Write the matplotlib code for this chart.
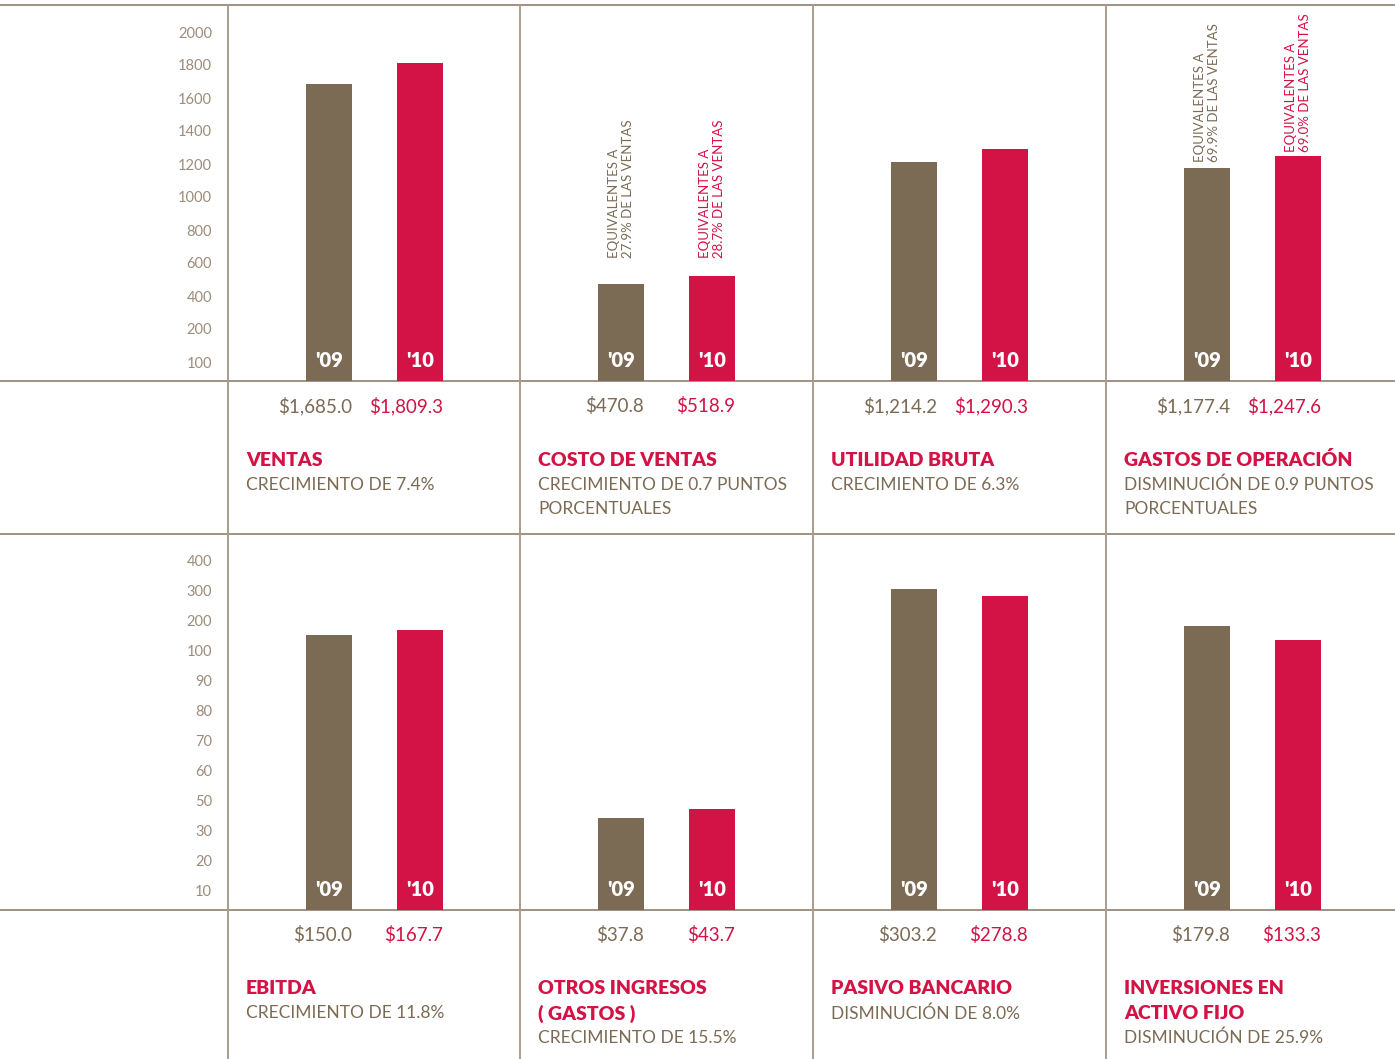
import matplotlib.pyplot as plt
import numpy as np

plt.rcParams['font.family'] = ['Lato', 'DejaVu Sans']

BROWN = '#7b6a54'
RED = '#d31245'
TICK = '#9c8c7b'
LINE = '#8f7f6e'
VLINE = '#aa9c8e'

years = ["'09", "'10"]

top_titles = ["VENTAS", "COSTO DE VENTAS", "UTILIDAD BRUTA", "GASTOS DE OPERACIÓN"]
top_notes = ["CRECIMIENTO DE 7.4%",
             "CRECIMIENTO DE 0.7 PUNTOS\nPORCENTUALES",
             "CRECIMIENTO DE 6.3%",
             "DISMINUCIÓN DE 0.9 PUNTOS\nPORCENTUALES"]
top_09 = [1685.0, 470.8, 1214.2, 1177.4]
top_10 = [1809.3, 518.9, 1290.3, 1247.6]
top_labels_09 = ["$1,685.0", "$470.8", "$1,214.2", "$1,177.4"]
top_labels_10 = ["$1,809.3", "$518.9", "$1,290.3", "$1,247.6"]
top_ticks = [100, 200, 400, 600, 800, 1000, 1200, 1400, 1600, 1800, 2000]
# share of sales, shown rotated above the bars
share_panels = [1, 3]
share_09 = ["27.9%", "69.9%"]
share_10 = ["28.7%", "69.0%"]

bottom_titles = ["EBITDA", "OTROS INGRESOS\n( GASTOS )", "PASIVO BANCARIO",
                 "INVERSIONES EN\nACTIVO FIJO"]
bottom_notes = ["CRECIMIENTO DE 11.8%", "CRECIMIENTO DE 15.5%",
                "DISMINUCIÓN DE 8.0%", "DISMINUCIÓN DE 25.9%"]
bottom_09 = [150.0, 37.8, 303.2, 179.8]
bottom_10 = [167.7, 43.7, 278.8, 133.3]
bottom_labels_09 = ["$150.0", "$37.8", "$303.2", "$179.8"]
bottom_labels_10 = ["$167.7", "$43.7", "$278.8", "$133.3"]
bottom_ticks = [10, 20, 30, 50, 60, 70, 80, 90, 100, 200, 300, 400]

W, H = 1395, 1059
fig = plt.figure(figsize=(W / 100, H / 100), dpi=100)

# overlay in pixel coords for rules and captions
ov = fig.add_axes([0, 0, 1, 1])
ov.set_xlim(0, W)
ov.set_ylim(H, 0)
ov.axis('off')

for y in [5, 381, 534, 910]:
    ov.plot([0, W], [y, y], color=LINE, lw=1.2, solid_capstyle='butt')
for x in [228, 520, 813, 1106]:
    ov.plot([x, x], [5, H], color=VLINE, lw=1.4, solid_capstyle='butt')

panel_x = [0, 292, 585, 878]
offs = [101, 192]
bar_w = 46


def make_scale(ticks, gap, extra):
    vals = np.array([0] + list(ticks) + [ticks[-1] + extra], dtype=float)
    pos = np.array([1 - gap] + list(range(1, len(ticks) + 2)), dtype=float)

    def fwd(v):
        return np.interp(v, vals, pos)

    def inv(p):
        return np.interp(p, pos, vals)
    return fwd, inv


def draw_row(y_top, y_base, ticks, gap, extra, spacing, v09, v10, l09, l10,
             titles, notes):
    ax = fig.add_axes([228 / W, 1 - y_base / H, (W - 228) / W, (y_base - y_top) / H])
    ax.patch.set_alpha(0)
    fwd, inv = make_scale(ticks, gap, extra)
    ax.set_yscale('function', functions=(fwd, inv))
    top_pos = 1 - gap + (y_base - y_top) / spacing
    ax.set_ylim(0, float(inv(top_pos)))
    ax.set_xlim(0, W - 228)
    ax.set_yticks(ticks)
    ax.set_yticklabels([str(t) for t in ticks])
    ax.yaxis.set_minor_locator(plt.NullLocator())
    ax.tick_params(axis='y', length=0, pad=11.5, labelsize=10.5, labelcolor=TICK)
    ax.set_xticks([])
    for s in ax.spines.values():
        s.set_visible(False)

    for i in range(4):
        xs = [panel_x[i] + o for o in offs]
        for x, v, lab, col, yr in [(xs[0], v09[i], l09[i], BROWN, years[0]),
                                   (xs[1], v10[i], l10[i], RED, years[1])]:
            ax.bar(x, v, width=bar_w, color=col)
            ax.annotate(yr, xy=(x, 0), xytext=(0, 14), textcoords='offset pixels',
                        ha='center', va='baseline', color='white',
                        fontsize=14.5, fontweight='heavy')
            ax.annotate(lab, xy=(x + bar_w / 2, 0), xytext=(0, -25),
                        textcoords='offset pixels', ha='right', va='center',
                        color=col, fontsize=13.5)

        # captions
        tx = 228 + panel_x[i] + 18
        ty = y_base + 79
        for line in titles[i].split('\n'):
            ov.text(tx, ty, line, color=RED, fontsize=14, fontweight='heavy',
                    va='center', ha='left')
            ty += 24.5
        for line in notes[i].split('\n'):
            ov.text(tx, ty, line, color=BROWN, fontsize=12.5, va='center', ha='left')
            ty += 24.5
    return ax


ax_top = draw_row(5, 381, top_ticks, 19 / 33, 200, 33, top_09, top_10,
                  top_labels_09, top_labels_10, top_titles, top_notes)
draw_row(534, 910, bottom_ticks, 20 / 30, 100, 30, bottom_09, bottom_10,
         bottom_labels_09, bottom_labels_10, bottom_titles, bottom_notes)

# rotated share notes
for k, p in enumerate(share_panels):
    xs = [panel_x[p] + o for o in offs]
    if p == 1:
        base = max(top_09[p], top_10[p])
        spots = [(base, 18), (base, 18)]
    else:
        spots = [(top_09[p], 6), (top_10[p], 4)]
    for x, (yv, dy), s, col in [(xs[0], spots[0], share_09[k], BROWN),
                                (xs[1], spots[1], share_10[k], RED)]:
        ax_top.annotate('EQUIVALENTES A\n' + s + ' DE LAS VENTAS', xy=(x, yv),
                        xytext=(0, dy), textcoords='offset pixels', rotation=90,
                        ha='center', va='bottom', multialignment='left',
                        color=col, fontsize=9.5, linespacing=1.15)

fig.savefig('out.png', dpi=100)
